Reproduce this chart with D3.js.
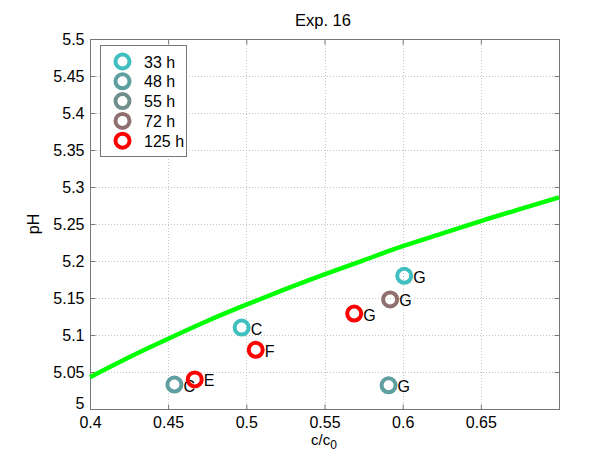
<!DOCTYPE html>
<html><head><meta charset="utf-8">
<script src="https://cdn.jsdelivr.net/npm/d3@7"></script>
<style>
html,body{margin:0;padding:0;background:#fff;}
svg{display:block;font-family:"Liberation Sans",Arial,sans-serif;}
</style></head>
<body>
<svg id="chart" width="611" height="455"></svg>
<script>
// ---- data ----
const seriesNames = ["33 h", "48 h", "55 h", "72 h", "125 h"];
const xTicks = [0.4, 0.45, 0.5, 0.55, 0.6, 0.65];
const xTickLabels = ["0.4", "0.45", "0.5", "0.55", "0.6", "0.65"];
const yTicks = [5, 5.05, 5.1, 5.15, 5.2, 5.25, 5.3, 5.35, 5.4, 5.45, 5.5];
const yTickLabels = ["5", "5.05", "5.1", "5.15", "5.2", "5.25", "5.3", "5.35", "5.4", "5.45", "5.5"];
const curveC  = [0.40, 0.425, 0.45, 0.475, 0.50, 0.525, 0.55, 0.575, 0.60, 0.625, 0.65, 0.675, 0.70];
const curvePH = [5.043, 5.070, 5.095, 5.119, 5.141, 5.162, 5.182, 5.201, 5.220, 5.237, 5.254, 5.270, 5.286];
const pointSeries = ["33 h", "33 h", "48 h", "48 h", "72 h", "125 h", "125 h", "125 h"];
const pointC      = [0.497, 0.601, 0.454, 0.591, 0.592, 0.569, 0.506, 0.467];
const pointPH     = [5.110, 5.180, 5.033, 5.032, 5.148, 5.129, 5.080, 5.040];
const pointLabel  = ["C", "G", "C", "G", "G", "G", "F", "E"];

// ---- styles ----
const colors = {"33 h": "#3fbfbf", "48 h": "#5f9f9f", "55 h": "#708e8b", "72 h": "#8f6f6f", "125 h": "#ff0000"};
const L = 90, R = 559, T = 39, B = 409;
const fs = "16px";

const svg = d3.select("#chart");
svg.append("rect").attr("width", 611).attr("height", 455).attr("fill", "#fff");

const x = d3.scaleLinear().domain([0.4, 0.7]).range([L, R]);
const y = d3.scaleLinear().domain([5, 5.5]).range([B, T]);

// grid
const grid = svg.append("g").attr("stroke", "#c4c4c4").attr("stroke-width", 1).attr("stroke-dasharray", "1,2");
xTicks.slice(1).forEach(v => grid.append("line").attr("x1", Math.round(x(v)) + 0.5).attr("x2", Math.round(x(v)) + 0.5).attr("y1", T).attr("y2", B));
yTicks.slice(1, -1).forEach(v => grid.append("line").attr("x1", L).attr("x2", R).attr("y1", Math.round(y(v)) + 0.5).attr("y2", Math.round(y(v)) + 0.5));

// axes (inward ticks)
const xAxis = d3.axisBottom(x).tickValues(xTicks).tickFormat((d, i) => xTickLabels[i]).tickSizeInner(-5).tickSizeOuter(0).tickPadding(7);
const gx = svg.append("g").attr("transform", `translate(0,${B + 0.5})`).call(xAxis);
gx.select(".domain").remove();
gx.selectAll("line").attr("stroke", "#777");
gx.selectAll("text").attr("font-size", fs).attr("fill", "#000").attr("font-family", "Liberation Sans, Arial, sans-serif");

const xAxisTop = d3.axisTop(x).tickValues(xTicks.slice(1)).tickFormat("").tickSizeInner(-5).tickSizeOuter(0);
const gxt = svg.append("g").attr("transform", `translate(0,${T + 0.5})`).call(xAxisTop);
gxt.select(".domain").remove();
gxt.selectAll("line").attr("stroke", "#777");

const yAxis = d3.axisLeft(y).tickValues(yTicks).tickFormat((d, i) => yTickLabels[i]).tickSizeInner(-5).tickSizeOuter(0).tickPadding(6);
const gy = svg.append("g").attr("transform", `translate(${L + 0.5},0)`).call(yAxis);
gy.select(".domain").remove();
gy.selectAll("line").attr("stroke", "#777");
gy.selectAll("text").attr("font-size", fs).attr("fill", "#000").attr("font-family", "Liberation Sans, Arial, sans-serif");
gy.selectAll(".tick").filter(d => d === 5).select("text").attr("dy", "-0.05em");

const yAxisRight = d3.axisRight(y).tickValues(yTicks.slice(1, -1)).tickFormat("").tickSizeInner(-5).tickSizeOuter(0);
const gyr = svg.append("g").attr("transform", `translate(${R + 0.5},0)`).call(yAxisRight);
gyr.select(".domain").remove();
gyr.selectAll("line").attr("stroke", "#777");

// box
svg.append("rect").attr("x", L + 0.5).attr("y", T + 0.5).attr("width", R - L).attr("height", B - T)
  .attr("fill", "none").attr("stroke", "#777").attr("stroke-width", 1);

// curve
const line = d3.line().x((d, i) => x(curveC[i])).y((d, i) => y(curvePH[i])).curve(d3.curveNatural);
svg.append("path").attr("d", line(curveC)).attr("fill", "none").attr("stroke", "#00ff00").attr("stroke-width", 4.5);

// points in series order
const ptsG = svg.append("g");
seriesNames.forEach(s => {
  pointSeries.forEach((ps, i) => {
    if (ps !== s) return;
    ptsG.append("circle").attr("cx", x(pointC[i])).attr("cy", y(pointPH[i])).attr("r", 7)
      .attr("fill", "none").attr("stroke", colors[s]).attr("stroke-width", 4);
    ptsG.append("text").attr("x", x(pointC[i]) + 9).attr("y", y(pointPH[i]) + 7)
      .attr("font-size", fs).attr("fill", "#000").text(pointLabel[i]);
  });
});

// title & axis labels
svg.append("text").attr("x", 323).attr("y", 26).attr("text-anchor", "middle").attr("font-size", "16.5px").text("Exp. 16");
svg.append("text").attr("transform", "translate(39,224) rotate(-90)").attr("text-anchor", "middle").attr("font-size", fs).text("pH");
const xl = svg.append("text").attr("x", 324).attr("y", 445).attr("text-anchor", "middle").attr("font-size", "15px");
xl.append("tspan").text("c/c");
xl.append("tspan").attr("dy", 4).attr("font-size", "12px").text("0");

// legend
const lg = svg.append("g");
lg.append("rect").attr("x", 100.5).attr("y", 45.5).attr("width", 86).attr("height", 111)
  .attr("fill", "#fff").attr("stroke", "#777").attr("stroke-width", 1);
seriesNames.forEach((s, i) => {
  const cy = 61.5 + i * 19.8;
  lg.append("circle").attr("cx", 122.5).attr("cy", cy).attr("r", 7)
    .attr("fill", "none").attr("stroke", colors[s]).attr("stroke-width", 4);
  lg.append("text").attr("x", 144).attr("y", cy + 6).attr("font-size", fs).text(s);
});
</script>
</body></html>
